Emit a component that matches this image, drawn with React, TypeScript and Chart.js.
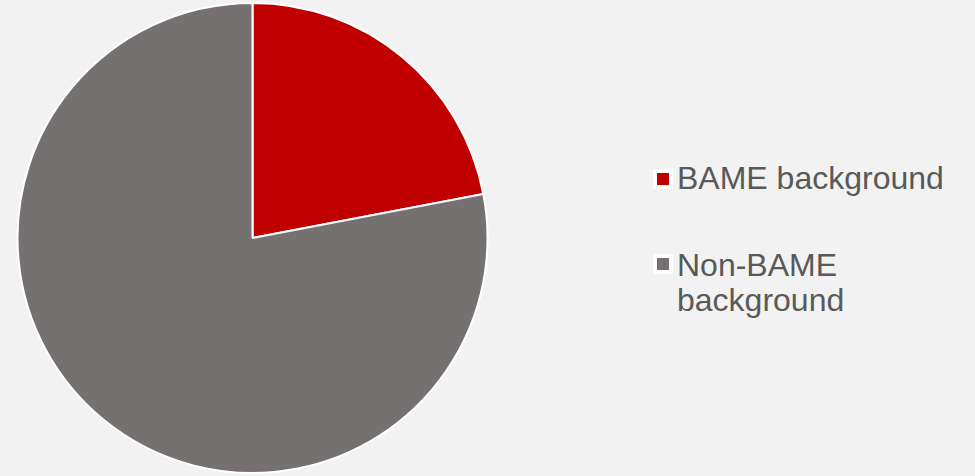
import React, { useEffect, useRef } from "react";
import { Chart, registerables } from "chart.js";

Chart.register(...registerables);

const categories = ["BAME background", "Non-BAME background"];
const values = [22, 78];
const colors = ["#C00000", "#767171"];

const legendTops = [160.7, 248.1];

export default function App() {
  const canvasRef = useRef<HTMLCanvasElement>(null);

  useEffect(() => {
    document.body.style.margin = "0";
    document.body.style.background = "#F2F2F2";
    const ctx = canvasRef.current!.getContext("2d")!;
    const chart = new Chart(ctx, {
      type: "pie",
      data: {
        labels: categories,
        datasets: [
          {
            data: values,
            backgroundColor: colors,
            borderColor: "#FFFFFF",
            borderWidth: 2,
          },
        ],
      },
      options: {
        responsive: false,
        animation: false,
        maintainAspectRatio: false,
        layout: { padding: { top: 2, bottom: 2, left: 0, right: 0 } },
        plugins: {
          legend: { display: false },
          tooltip: { enabled: false },
        },
      },
    });
    return () => chart.destroy();
  }, []);

  return (
    <div
      style={{
        position: "relative",
        width: 975,
        height: 476,
        background: "#F2F2F2",
        overflow: "hidden",
        fontFamily: "'Liberation Sans', Arial, sans-serif",
      }}
    >
      <canvas
        ref={canvasRef}
        width={505}
        height={476}
        style={{ position: "absolute", left: 0, top: 0, width: 505, height: 476 }}
      />
      {categories.map((label, i) => (
        <div
          key={label}
          style={{
            position: "absolute",
            left: 653,
            top: legendTops[i],
            width: 310,
          }}
        >
          <div
            style={{
              position: "absolute",
              left: 0,
              top: i === 0 ? 8 : 6,
              width: 12,
              height: 12,
              background: colors[i],
              border: "4px solid #FFFFFF",
            }}
          />
          <div
            style={{
              marginLeft: 24,
              width: 280,
              fontSize: 32,
              lineHeight: "35px",
              color: "#595959",
            }}
          >
            {label}
          </div>
        </div>
      ))}
    </div>
  );
}
